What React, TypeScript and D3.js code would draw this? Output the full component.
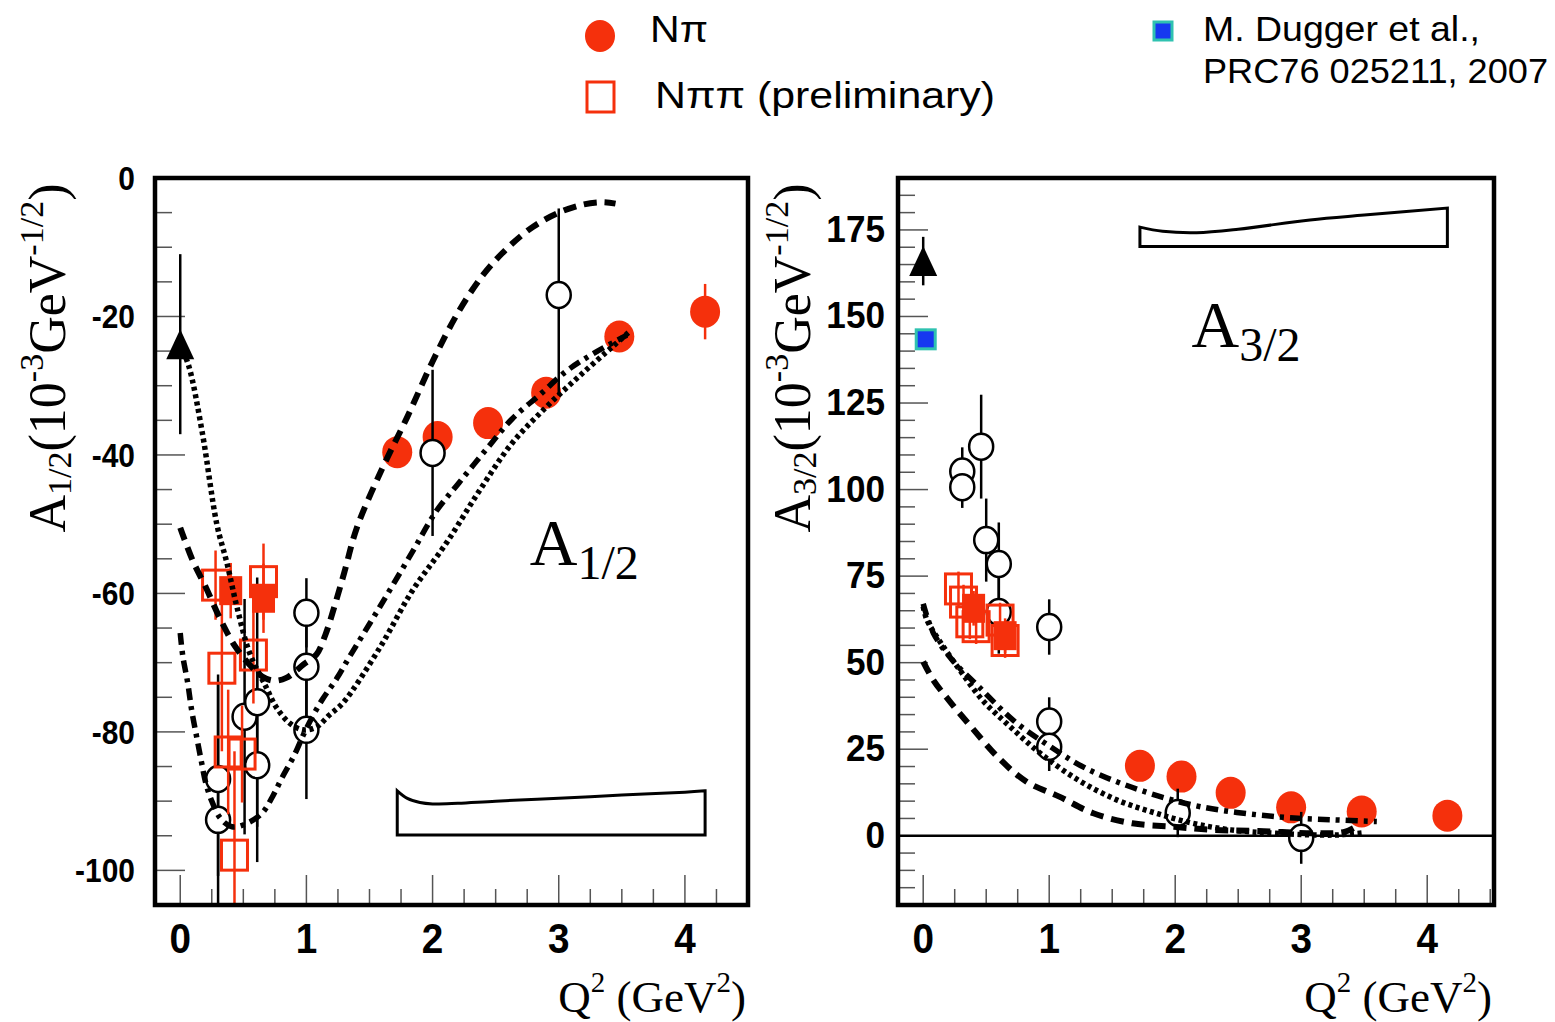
import React from "react";
import * as d3 from "d3";

// ---------------- shared ----------------
const RED = "#f5300c";
const BLUE = "#1638f0";
const TEAL = "#2fc2b0";
const xTickValues = [0, 1, 2, 3, 4];
const leftYTicks = [0, -20, -40, -60, -80, -100];
const rightYTicks = [0, 25, 50, 75, 100, 125, 150, 175];

// ---------------- Left panel: A1/2 ----------------
const L_npiX = [1.72, 2.04, 2.44, 2.9, 3.48, 4.16];
const L_npiY = [-39.6, -37.4, -35.4, -31.0, -22.9, -19.3];
const L_npiE = [2, 2, 2, 2, 2, 4];

const L_openX = [0.3, 0.3, 0.51, 0.61, 0.61, 1.0, 1.0, 1.0, 2.0, 3.0];
const L_openY = [-86.8, -92.7, -77.8, -75.7, -84.8, -62.8, -70.6, -79.7, -39.7, -16.9];
const L_openEUp = [14, 21, 17, 18, 14, 5, 8, 10, 12, 12.5];
const L_openEDn = [14, 21, 17, 18, 14, 5, 8, 10, 12, 14.5];

const L_sqX = [0.28, 0.66, 0.58, 0.33, 0.38, 0.49, 0.43];
const L_sqY = [-58.8, -58.3, -68.9, -70.8, -82.9, -83.2, -97.8];
const L_sqE = [5, 5.5, 7, 12, 9, 7, 15];
const L_sqFX = [0.4, 0.66];
const L_sqFY = [-59.6, -60.7];
const L_sqFE = [4, 5];

const L_triX = [0];
const L_triY = [-24];
const L_triE = [13];

const L_dashX = [0, 0.1, 0.2, 0.32, 0.43, 0.55, 0.65, 0.74, 0.84, 0.98, 1.08, 1.15, 1.22, 1.3, 1.4, 1.6, 1.8, 2.0, 2.2, 2.4, 2.6, 2.8, 3.0, 3.2, 3.35, 3.45];
const L_dashY = [-50.5, -55.3, -59, -63.8, -67.5, -70.3, -72, -72.6, -72.2, -70.2, -68.8, -66, -62, -57, -50.5, -42, -34.5, -26.5, -19.5, -14, -10, -7, -5, -3.8, -3.5, -3.7];
const L_dotX = [0, 0.07, 0.175, 0.29, 0.37, 0.45, 0.55, 0.68, 0.76, 0.865, 0.97, 1.08, 1.18, 1.29, 1.58, 1.84, 2.11, 2.37, 2.63, 2.9, 3.17, 3.43, 3.56];
const L_dotY = [-24, -27.3, -36.8, -50, -55.6, -62, -68.6, -73.5, -76.4, -78.7, -79.7, -79.3, -77.6, -75.8, -67.9, -59.6, -52.7, -45.2, -38.3, -33.1, -28.5, -24.3, -22.2];
const L_ddX = [0, 0.02, 0.06, 0.09, 0.13, 0.17, 0.2, 0.25, 0.32, 0.41, 0.53, 0.65, 0.73, 0.81, 0.9, 1.0, 1.12, 1.24, 1.34, 1.58, 1.84, 2.03, 2.21, 2.43, 2.63, 2.85, 3.06, 3.27, 3.54];
const L_ddY = [-65.7, -69, -73, -76.8, -80.7, -84.5, -87.2, -90, -92.5, -93.7, -93.2, -91.7, -89.4, -86.5, -83.5, -79.5, -75.5, -72.3, -69.2, -62, -54, -48.1, -44, -39.1, -34.8, -31.3, -27.9, -25.4, -22.7];

const L_bandX = [1.72, 1.8, 1.9, 2.0, 2.2, 2.5, 3.0, 3.5, 4.0, 4.16];
const L_bandTop = [-88.5, -89.6, -90.2, -90.4, -90.3, -90.0, -89.6, -89.1, -88.7, -88.5];
const L_bandBottom = -94.9;

// ---------------- Right panel: A3/2 ----------------
const R_npiX = [1.72, 2.05, 2.44, 2.92, 3.48, 4.16];
const R_npiY = [20.2, 17.1, 12.4, 8.2, 7.0, 5.8];
const R_npiE = [2, 2, 2, 2, 2, 2];

const R_openX = [0.31, 0.31, 0.46, 0.5, 0.6, 0.6, 1.0, 1.0, 1.0, 2.02, 3.0];
const R_openY = [105.2, 100.7, 112.4, 85.4, 78.5, 64.6, 60.3, 33.0, 25.7, 6.6, -0.6];
const R_openE = [7, 6, 15, 12, 12, 12, 8, 7, 7, 7, 7.5];

const R_sqX = [0.28, 0.32, 0.37, 0.42, 0.61, 0.65];
const R_sqY = [71.3, 67.5, 61.8, 60.4, 62.3, 56.4];
const R_sqE = [5, 5, 5, 5, 5, 5];
const R_sqFX = [0.4, 0.65];
const R_sqFY = [65.7, 57.8];
const R_sqFE = [5, 5];

const R_triX = [0];
const R_triY = [166];
const R_triE = [7];
const R_duggerX = [0.02];
const R_duggerY = [143.4];

const R_dashX = [0, 0.08, 0.22, 0.38, 0.59, 0.82, 1.08, 1.35, 1.66, 1.99, 2.29, 2.66, 3.11, 3.35, 3.45];
const R_dashY = [50.3, 45, 38.4, 31.5, 22.8, 15.6, 11.3, 6.5, 3.6, 2.6, 1.7, 1.4, 0.7, 1.2, 3];
const R_dotX = [0, 0.03, 0.14, 0.29, 0.47, 0.69, 0.93, 1.23, 1.54, 1.84, 2.14, 2.44, 2.8, 3.26, 3.48];
const R_dotY = [66.2, 62.3, 55.7, 47.9, 39.2, 31.5, 23.8, 16.1, 10.3, 6.6, 3.6, 1.7, 0.7, 0.2, 0.8];
const R_ddX = [0, 0.08, 0.23, 0.44, 0.72, 0.99, 1.29, 1.72, 2.2, 2.81, 3.26, 3.6];
const R_ddY = [67, 58.6, 50.8, 43.1, 33.2, 26.2, 19.5, 13.2, 8.4, 5.5, 4.6, 4.1];

const R_bandX = [1.72, 1.9, 2.17, 2.5, 3.07, 3.5, 4.16];
const R_bandTop = [175.8, 174.6, 174.2, 175.2, 177.9, 179.3, 181.3];
const R_bandBottom = 170.2;

// ---------------- helpers ----------------
const pts = (xs: number[], ys: number[]) => xs.map((x, i) => [x, ys[i]] as [number, number]);

const SERIF = "'Liberation Serif', 'Times New Roman', serif";
const SANS = "'Liberation Sans', Arial, sans-serif";
const LEG = "'Liberation Sans', Arial, sans-serif";

type PanelProps = {
  id: string;
  box: { l: number; r: number; t: number; b: number };
  xDomain: [number, number];
  yDomain: [number, number];
  yMajor: number[];
  yMinorStep: number;
  yLabelRight: number;
  yLabelSize: number;
  yLabelScale: number;
  npi: [number[], number[], number[]];
  open: [number[], number[], number[], number[]];
  sq: [number[], number[], number[]];
  sqF: [number[], number[], number[]];
  tri: [number[], number[], number[]];
  dugger?: [number[], number[]];
  dash: [number[], number[]];
  dot: [number[], number[]];
  dd: [number[], number[]];
  band: [number[], number[], number];
  zeroLine?: boolean;
  label: { x: number; y: number; sub: string };
  yTitle: { x: number; sub: string };
};

function Panel(p: PanelProps) {
  const { l, r, t, b } = p.box;
  const x = d3.scaleLinear().domain(p.xDomain).range([l, r]);
  const y = d3.scaleLinear().domain(p.yDomain).range([b, t]);
  const line = d3
    .line<[number, number]>()
    .x((d) => x(d[0]))
    .y((d) => y(d[1]))
    .curve(d3.curveCatmullRom.alpha(0.5));
  const clip = `clip-${p.id}`;

  const xMinor = d3.range(0, p.xDomain[1] + 1e-6, 0.25);
  const yMinor = d3.range(
    Math.ceil(p.yDomain[0] / p.yMinorStep) * p.yMinorStep,
    p.yDomain[1] + 1e-6,
    p.yMinorStep
  );

  const bandPath =
    line(pts(p.band[0], p.band[1])) +
    `L${x(p.band[0][p.band[0].length - 1])},${y(p.band[2])}L${x(p.band[0][0])},${y(p.band[2])}Z`;

  return (
    <g>
      <defs>
        <clipPath id={clip}>
          <rect x={l} y={t} width={r - l} height={b - t} />
        </clipPath>
      </defs>
      <rect x={l} y={t} width={r - l} height={b - t} fill="white" />
      {/* ticks */}
      {xMinor.map((v, i) => {
        const major = Math.abs(v - Math.round(v)) < 1e-6;
        return (
          <line key={"xt" + i} x1={x(v)} x2={x(v)} y1={b} y2={b - (major ? 30 : 16)} stroke="#555" strokeWidth={1.5} />
        );
      })}
      {yMinor.map((v, i) => {
        const major = p.yMajor.some((m) => Math.abs(m - v) < 1e-6);
        return (
          <line key={"yt" + i} x1={l} x2={l + (major ? 30 : 17)} y1={y(v)} y2={y(v)} stroke="#555" strokeWidth={1.5} />
        );
      })}

      <g clipPath={`url(#${clip})`}>
        {p.zeroLine && <line x1={l} x2={r} y1={y(0)} y2={y(0)} stroke="black" strokeWidth={2.5} />}
        {/* systematic band */}
        <path d={bandPath} fill="none" stroke="black" strokeWidth={3} />

        {/* N pi filled circles */}
        {p.npi[0].map((v, i) => (
          <g key={"np" + i}>
            <line x1={x(v)} x2={x(v)} y1={y(p.npi[1][i] - p.npi[2][i])} y2={y(p.npi[1][i] + p.npi[2][i])} stroke={RED} strokeWidth={2.5} />
            <ellipse cx={x(v)} cy={y(p.npi[1][i])} rx={15} ry={16} fill={RED} />
          </g>
        ))}

        {/* open black circles */}
        {p.open[0].map((v, i) => (
          <line key={"oe" + i} x1={x(v)} x2={x(v)} y1={y(p.open[1][i] - p.open[3][i])} y2={y(p.open[1][i] + p.open[2][i])} stroke="black" strokeWidth={2.5} />
        ))}
        {p.open[0].map((v, i) => (
          <ellipse key={"oc" + i} cx={x(v)} cy={y(p.open[1][i])} rx={12} ry={13} fill="white" stroke="black" strokeWidth={2.5} />
        ))}

        {/* N pi pi squares */}
        {p.sq[0].map((v, i) => (
          <line key={"se" + i} x1={x(v)} x2={x(v)} y1={y(p.sq[1][i] - p.sq[2][i])} y2={y(p.sq[1][i] + p.sq[2][i])} stroke={RED} strokeWidth={2.5} />
        ))}
        {p.sqF[0].map((v, i) => (
          <line key={"sfe" + i} x1={x(v)} x2={x(v)} y1={y(p.sqF[1][i] - p.sqF[2][i])} y2={y(p.sqF[1][i] + p.sqF[2][i])} stroke={RED} strokeWidth={2.5} />
        ))}
        {p.sq[0].map((v, i) => (
          <rect key={"s" + i} x={x(v) - 13} y={y(p.sq[1][i]) - 15} width={26} height={30} fill="none" stroke={RED} strokeWidth={3} />
        ))}
        {p.sqF[0].map((v, i) => (
          <rect key={"sf" + i} x={x(v) - 11.5} y={y(p.sqF[1][i]) - 14.5} width={23} height={29} fill={RED} />
        ))}

        {/* model curves */}
        <path d={line(pts(p.dd[0], p.dd[1])) || ""} fill="none" stroke="black" strokeWidth={5.5} strokeDasharray="12 6 4 6" />
        <path d={line(pts(p.dot[0], p.dot[1])) || ""} fill="none" stroke="black" strokeWidth={5.5} strokeDasharray="4 3.5" />
        <path d={line(pts(p.dash[0], p.dash[1])) || ""} fill="none" stroke="black" strokeWidth={6} strokeDasharray="13 8" />

        {/* triangle */}
        {p.tri[0].map((v, i) => (
          <g key={"tr" + i}>
            <line x1={x(v)} x2={x(v)} y1={y(p.tri[1][i] - p.tri[2][i])} y2={y(p.tri[1][i] + p.tri[2][i])} stroke="black" strokeWidth={2.5} />
            <path d={`M${x(v)},${y(p.tri[1][i]) - 15}L${x(v) + 14},${y(p.tri[1][i]) + 15}L${x(v) - 14},${y(p.tri[1][i]) + 15}Z`} fill="black" />
          </g>
        ))}
        {p.dugger &&
          p.dugger[0].map((v, i) => (
            <rect key={"dg" + i} x={x(v) - 9.5} y={y(p.dugger![1][i]) - 9.5} width={19} height={19} fill={BLUE} stroke={TEAL} strokeWidth={3} />
          ))}
      </g>

      {/* frame */}
      <rect x={l} y={t} width={r - l} height={b - t} fill="none" stroke="black" strokeWidth={4.5} />

      {/* tick labels */}
      {xTickValues.map((v) => (
        <text key={"xl" + v} transform={`translate(${x(v)},953) scale(0.9,1)`} textAnchor="middle" fontFamily={SANS} fontWeight="bold" fontSize={43}>
          {v}
        </text>
      ))}
      {p.yMajor.map((v) => (
        <text key={"yl" + v} transform={`translate(${p.yLabelRight},${y(v) + 12}) scale(${p.yLabelScale},1)`} textAnchor="end" fontFamily={SANS} fontWeight="bold" fontSize={p.yLabelSize}>
          {String(v)}
        </text>
      ))}

      {/* panel label */}
      <text x={x(p.label.x)} y={y(p.label.y)} fontFamily={SERIF} fontSize={66}>
        A<tspan fontSize={48} dy={14}>{p.label.sub}</tspan>
      </text>

      {/* axis titles */}
      <text x={r - 2} y={1012} textAnchor="end" fontFamily={SERIF} fontSize={45}>
        Q<tspan fontSize={29} dy={-20}>2</tspan>
        <tspan dy={20}> (GeV</tspan>
        <tspan fontSize={29} dy={-20}>2</tspan>
        <tspan dy={20}>)</tspan>
      </text>
      <text transform={`translate(${p.yTitle.x},358) rotate(-90)`} textAnchor="middle" fontFamily={SERIF} fontSize={52}>
        A<tspan fontSize={34} dy={6}>{p.yTitle.sub}</tspan>
        <tspan dy={-6}>(10</tspan>
        <tspan fontSize={34} dy={-22}>-3</tspan>
        <tspan dy={22}>GeV</tspan>
        <tspan fontSize={34} dy={-22}>-1/2</tspan>
        <tspan dy={22}>)</tspan>
      </text>
    </g>
  );
}

export default function App() {
  return (
    <svg width={1555} height={1022} style={{ position: "absolute", left: 0, top: 0, background: "white" }}>
      <rect x={0} y={0} width={1555} height={1022} fill="white" />

      {/* legend */}
      <ellipse cx={600} cy={36} rx={15} ry={16} fill={RED} />
      <text x={650} y={42} fontFamily={LEG} fontSize={36} textLength={58} lengthAdjust="spacingAndGlyphs">Nπ</text>
      <rect x={587} y={82} width={27} height={30} fill="none" stroke={RED} strokeWidth={3} />
      <text x={655} y={108} fontFamily={LEG} fontSize={36} textLength={340} lengthAdjust="spacingAndGlyphs">Nππ (preliminary)</text>
      <rect x={1154} y={22} width={18} height={18} fill={BLUE} stroke={TEAL} strokeWidth={3} />
      <text x={1203} y={41} fontFamily={LEG} fontSize={35} textLength={277} lengthAdjust="spacingAndGlyphs">M. Dugger et al.,</text>
      <text x={1203} y={83} fontFamily={LEG} fontSize={35} textLength={345} lengthAdjust="spacingAndGlyphs">PRC76 025211, 2007</text>

      <Panel
        id="left"
        box={{ l: 155, r: 748, t: 178, b: 905 }}
        xDomain={[-0.2, 4.5]}
        yDomain={[-105, 0]}
        yMajor={leftYTicks}
        yMinorStep={5}
        yLabelRight={135}
        yLabelSize={34}
        yLabelScale={0.88}
        npi={[L_npiX, L_npiY, L_npiE]}
        open={[L_openX, L_openY, L_openEUp, L_openEDn]}
        sq={[L_sqX, L_sqY, L_sqE]}
        sqF={[L_sqFX, L_sqFY, L_sqFE]}
        tri={[L_triX, L_triY, L_triE]}
        dash={[L_dashX, L_dashY]}
        dot={[L_dotX, L_dotY]}
        dd={[L_ddX, L_ddY]}
        band={[L_bandX, L_bandTop, L_bandBottom]}
        label={{ x: 2.77, y: -55.9, sub: "1/2" }}
        yTitle={{ x: 65, sub: "1/2" }}
      />
      <Panel
        id="right"
        box={{ l: 898, r: 1494, t: 178, b: 905 }}
        xDomain={[-0.2, 4.53]}
        yDomain={[-20, 190]}
        yMajor={rightYTicks}
        yMinorStep={5}
        yLabelRight={885}
        yLabelSize={37}
        yLabelScale={0.95}
        npi={[R_npiX, R_npiY, R_npiE]}
        open={[R_openX, R_openY, R_openE, R_openE]}
        sq={[R_sqX, R_sqY, R_sqE]}
        sqF={[R_sqFX, R_sqFY, R_sqFE]}
        tri={[R_triX, R_triY, R_triE]}
        dugger={[R_duggerX, R_duggerY]}
        dash={[R_dashX, R_dashY]}
        dot={[R_dotX, R_dotY]}
        dd={[R_ddX, R_ddY]}
        band={[R_bandX, R_bandTop, R_bandBottom]}
        zeroLine
        label={{ x: 2.13, y: 141.2, sub: "3/2" }}
        yTitle={{ x: 810, sub: "3/2" }}
      />
    </svg>
  );
}
